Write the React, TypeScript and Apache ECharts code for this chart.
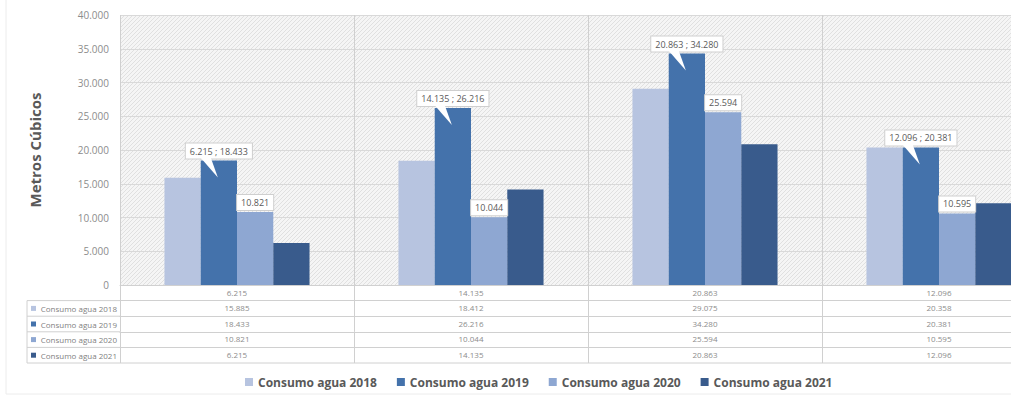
import React, { useEffect, useRef } from 'react';
import * as echarts from 'echarts';

const categories = ['6.215', '14.135', '20.863', '12.096'];
const seriesNames = ['Consumo agua 2018', 'Consumo agua 2019', 'Consumo agua 2020', 'Consumo agua 2021'];
const agua2018 = [15885, 18412, 29075, 20358];
const agua2019 = [18433, 26216, 34280, 20381];
const agua2020 = [10821, 10044, 25594, 10595];
const agua2021 = [6215, 14135, 20863, 12096];
const yMin = 0;
const yMax = 40000;
const yStep = 5000;
const yAxisName = 'Metros Cúbicos';

const colors = ['#b7c4e0', '#4472ab', '#8ea7d2', '#395b8c'];
const FONT = '"Open Sans", "Noto Sans", sans-serif';

const fmt = (v: number) => String(Math.round(v)).replace(/\B(?=(\d{3})+(?!\d))/g, '.');

const GRID_LEFT = 120;
const GRID_TOP = 15;
const PLOT_BOTTOM = 285;
const CHART_W = 1070;
const CHART_H = 397;
const PLOT_RIGHT = 1056;
const ROW_H = 15.6;
const CAT_GAP = 0.38;

export default function App() {
  const ref = useRef<HTMLDivElement>(null);
  useEffect(() => {
    if (!ref.current) return;
    const chart = echarts.init(ref.current, null, { renderer: 'svg' });
    const rows = [agua2018, agua2019, agua2020, agua2021];

    const c = document.createElement('canvas');
    c.width = 4;
    c.height = 4;
    const ctx = c.getContext('2d')!;
    ctx.fillStyle = '#f5f5f5';
    ctx.fillRect(0, 0, 4, 4);
    ctx.fillStyle = '#e0e0e0';
    for (let i = 0; i < 4; i++) ctx.fillRect(i, 3 - i, 1, 1);

    const lineColor = '#d0d0d0';
    const xAxes: any[] = [
      {
        type: 'category',
        data: categories,
        position: 'bottom',
        axisLine: { show: true, lineStyle: { color: lineColor } },
        axisTick: { show: true, length: ROW_H, lineStyle: { color: lineColor } },
        axisLabel: { fontSize: 8, color: '#8c8c8c', margin: 3, fontFamily: FONT },
        splitLine: { show: true, lineStyle: { color: lineColor } },
      },
    ];
    rows.forEach((row, k) => {
      xAxes.push({
        type: 'category',
        data: categories,
        position: 'bottom',
        offset: ROW_H * (k + 1),
        axisLine: { show: true, onZero: false, lineStyle: { color: lineColor } },
        axisTick: { show: true, length: ROW_H, lineStyle: { color: lineColor } },
        axisLabel: {
          fontSize: 8,
          color: '#8c8c8c',
          margin: 3,
          fontFamily: FONT,
          formatter: (_v: string, i: number) => fmt(row[i]),
        },
        splitLine: { show: false },
      });
    });

    const tableBottom = PLOT_BOTTOM + ROW_H * 5;
    const graphics: any[] = [];
    for (let k = 1; k <= 5; k++) {
      const y = PLOT_BOTTOM + ROW_H * k;
      graphics.push({
        type: 'line',
        shape: { x1: 27, y1: y, x2: GRID_LEFT, y2: y },
        style: { stroke: lineColor, lineWidth: 1 },
      });
    }
    graphics.push({
      type: 'line',
      shape: { x1: 27, y1: PLOT_BOTTOM + ROW_H, x2: 27, y2: tableBottom },
      style: { stroke: lineColor, lineWidth: 1 },
    });
    graphics.push({
      type: 'line',
      shape: { x1: GRID_LEFT, y1: tableBottom, x2: PLOT_RIGHT, y2: tableBottom },
      style: { stroke: lineColor, lineWidth: 1 },
    });
    seriesNames.forEach((name, k) => {
      const cy = PLOT_BOTTOM + ROW_H * (k + 1) + ROW_H / 2;
      graphics.push({
        type: 'rect',
        shape: { x: 31, y: cy - 2.5, width: 5, height: 5 },
        style: { fill: colors[k] },
      });
      graphics.push({
        type: 'text',
        x: 117,
        y: cy,
        style: {
          text: name,
          fontSize: 8,
          fill: '#7f7f7f',
          fontFamily: FONT,
          align: 'right',
          verticalAlign: 'middle',
        },
      });
    });
    graphics.push({
      type: 'line',
      shape: { x1: 6, y1: 0, x2: 6, y2: 394 },
      style: { stroke: '#ececec', lineWidth: 1 },
    });
    graphics.push({
      type: 'line',
      shape: { x1: 6, y1: 394, x2: CHART_W, y2: 394 },
      style: { stroke: '#ececec', lineWidth: 1 },
    });

    const labelBox = {
      show: true,
      position: 'top',
      distance: 2,
      fontSize: 9,
      color: '#595959',
      fontFamily: FONT,
      backgroundColor: '#ffffff',
      borderColor: '#cfcfcf',
      borderWidth: 1,
      padding: [3, 4, 3, 4],
    };

    const barBase = {
      type: 'bar',
      barGap: '0%',
      barCategoryGap: CAT_GAP * 100 + '%',
      xAxisIndex: 0,
    };

    const option: any = {
      animation: false,
      textStyle: { fontFamily: FONT },
      grid: {
        left: GRID_LEFT,
        top: GRID_TOP,
        right: CHART_W - PLOT_RIGHT,
        bottom: CHART_H - PLOT_BOTTOM,
        show: true,
        borderWidth: 0,
        backgroundColor: { image: c, repeat: 'repeat', imageWidth: 4, imageHeight: 4 },
      },
      legend: {
        data: seriesNames,
        top: 371,
        left: 240,
        icon: 'rect',
        itemWidth: 8,
        itemHeight: 8,
        itemGap: 20,
        textStyle: { fontSize: 12, fontWeight: 'bold', color: '#595959', fontFamily: FONT },
      },
      xAxis: xAxes,
      yAxis: {
        type: 'value',
        min: yMin,
        max: yMax,
        interval: yStep,
        name: yAxisName,
        nameLocation: 'middle',
        nameRotate: 90,
        nameGap: 78,
        nameTextStyle: { fontSize: 15, fontWeight: 'bold', color: '#595959', fontFamily: FONT },
        axisLine: { show: false },
        axisTick: { show: false },
        axisLabel: { fontSize: 10, color: '#8c8c8c', margin: 11, fontFamily: FONT, formatter: (v: number) => fmt(v) },
        splitLine: { show: true, lineStyle: { color: '#d9d9d9' } },
      },
      graphic: graphics,
      series: [
        { ...barBase, name: seriesNames[0], data: agua2018, itemStyle: { color: colors[0] } },
        {
          ...barBase,
          name: seriesNames[1],
          data: agua2019,
          itemStyle: { color: colors[1] },
          label: { ...labelBox, formatter: (p: any) => `${categories[p.dataIndex]} ; ${fmt(p.value)}` },
        },
        {
          ...barBase,
          name: seriesNames[2],
          data: agua2020,
          itemStyle: { color: colors[2] },
          label: { ...labelBox, formatter: (p: any) => fmt(p.value) },
        },
        { ...barBase, name: seriesNames[3], data: agua2021, itemStyle: { color: colors[3] } },
        {
          type: 'custom',
          xAxisIndex: 0,
          z: 3,
          silent: true,
          data: agua2019.map((v, i) => [i, v]),
          renderItem: (_params: any, api: any) => {
            const pt = api.coord([api.value(0), api.value(1)]);
            const bw = api.size([1, 0])[0];
            const groupW = bw * (1 - CAT_GAP);
            const barW = groupW / 4;
            const xc = pt[0] - groupW / 2 + barW * 1.5;
            const yb = pt[1] - 2.5;
            return {
              type: 'polygon',
              shape: { points: [[xc - 18, yb], [xc - 8, yb], [xc - 1, pt[1] + 17]] },
              style: { fill: '#ffffff' },
            };
          },
        },
      ],
    };
    chart.setOption(option);
    return () => chart.dispose();
  }, []);

  return (
    <div style={{ position: 'fixed', left: 0, top: 0, width: 1011, height: 397, overflow: 'hidden', background: '#fff' }}>
      <div ref={ref} style={{ width: CHART_W, height: CHART_H }} />
    </div>
  );
}
